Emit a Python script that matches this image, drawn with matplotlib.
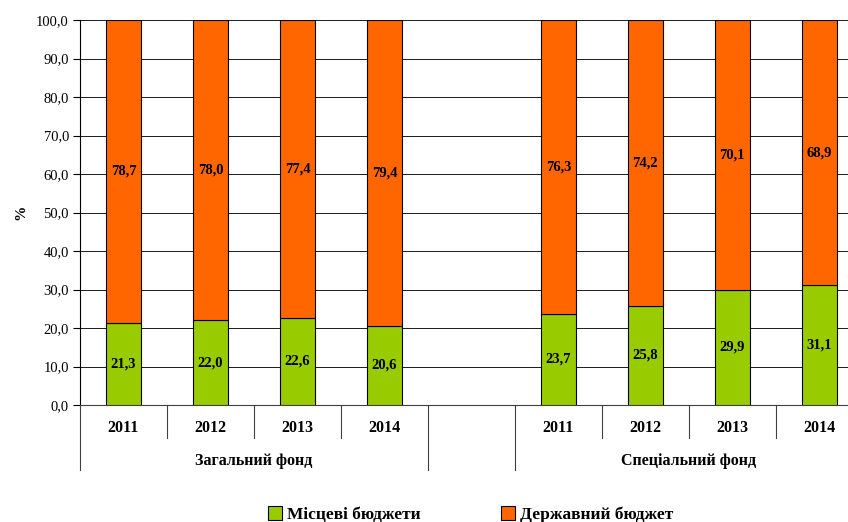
import matplotlib
matplotlib.use("Agg")
import matplotlib.pyplot as plt
from matplotlib.lines import Line2D
from matplotlib.patches import Patch
import numpy as np

plt.rcParams['font.family'] = ['Liberation Serif', 'DejaVu Serif']

years = ['2011', '2012', '2013', '2014']
groups = ['Загальний фонд', 'Спеціальний фонд']
local_gen = [21.3, 22.0, 22.6, 20.6]
state_gen = [78.7, 78.0, 77.4, 79.4]
local_spec = [23.7, 25.8, 29.9, 31.1]
state_spec = [76.3, 74.2, 70.1, 68.9]
series_names = ['Місцеві бюджети', 'Державний бюджет']

green = '#99CC00'
orange = '#FF6600'

local = local_gen + [np.nan] + local_spec
state = state_gen + [np.nan] + state_spec
x = np.arange(len(local))

fig = plt.figure(figsize=(8.48, 5.22), dpi=100)
ax = fig.add_axes([80/848, 117/522, 768/848, 385/522])

ax.bar(x, local, width=0.4, color=green, edgecolor='black', linewidth=0.8, zorder=3)
ax.bar(x, state, width=0.4, bottom=local, color=orange, edgecolor='black', linewidth=0.8, zorder=3)

for xi, lo, st in zip(x, local, state):
    if np.isnan(lo):
        continue
    ax.text(xi, lo / 2, f'{lo:.1f}'.replace('.', ','), ha='center', va='center',
            fontsize=10.5, fontweight='bold', zorder=4)
    ax.text(xi, lo + st / 2, f'{st:.1f}'.replace('.', ','), ha='center', va='center',
            fontsize=10.5, fontweight='bold', zorder=4)

ax.set_xlim(-0.5, 8.33)
ax.set_ylim(0, 100)
ax.set_yticks(np.arange(0, 101, 10))
ax.set_yticklabels([f'{v:.1f}'.replace('.', ',') for v in np.arange(0, 101, 10)], fontsize=10.5)
ax.yaxis.grid(True, color='#1a1a1a', linewidth=0.7, zorder=0)
ax.set_xticks([])
ax.tick_params(axis='y', length=5, width=0.8, direction='out', pad=3)
for s in ['top', 'right']:
    ax.spines[s].set_visible(False)
ax.spines['left'].set_linewidth(0.8)
ax.spines['bottom'].set_linewidth(0.8)
ax.spines['bottom'].set_color('#404040')
ax.set_ylabel('%', fontsize=11, fontweight='bold', labelpad=6)

# category axis with two levels
trans = ax.get_xaxis_transform()
for b in np.arange(-0.5, 9.0, 1.0):
    long = b in (-0.5, 3.5, 4.5)
    y_end = -0.17 if long else -0.087
    ax.add_line(Line2D([b, b], [0, y_end], transform=trans, color='#404040',
                       linewidth=0.8, clip_on=False))

year_x = list(range(4)) + list(range(5, 9))
for xi, yr in zip(year_x, years + years):
    ax.text(xi, -0.06, yr, transform=trans, ha='center', va='center',
            fontsize=11.5, fontweight='bold')
ax.text(1.5, -0.145, groups[0], transform=trans, ha='center', va='center',
        fontsize=11.5, fontweight='bold')
ax.text(6.5, -0.145, groups[1], transform=trans, ha='center', va='center',
        fontsize=11.5, fontweight='bold')

handles = [Patch(facecolor=green, edgecolor='black', linewidth=0.8),
           Patch(facecolor=orange, edgecolor='black', linewidth=0.8)]
fig.legend(handles, series_names, loc='lower center', bbox_to_anchor=(0.555, -0.032),
           ncol=2, frameon=False, prop={'size': 12.5, 'weight': 'bold'},
           handlelength=0.8, handleheight=0.8, handletextpad=0.3, columnspacing=4.6)

fig.savefig('out.png', dpi=100)
